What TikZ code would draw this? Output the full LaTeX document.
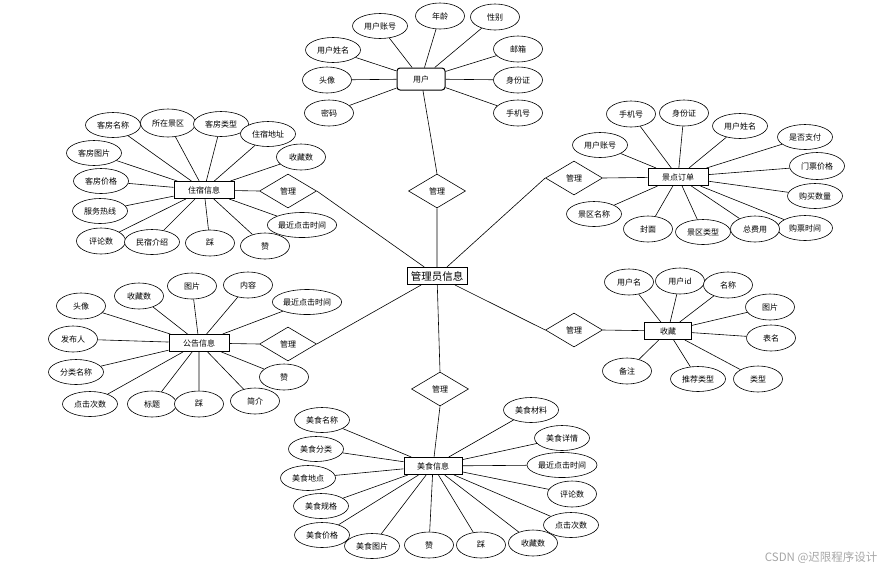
\documentclass[tikz,border=0pt]{standalone}
\usepackage{fontspec}
\setmainfont{Noto Sans CJK SC}
\usepackage{tikz}
\usetikzlibrary{shapes.geometric}

\begin{document}
\begin{tikzpicture}[x=1pt,y=-1pt,
  attr/.style={draw,ellipse,fill=white,line width=0.6pt,inner sep=0.5pt,
    minimum width=49pt,minimum height=26pt,font=\fontsize{8}{9}\selectfont},
  wattr/.style={attr,minimum width=55pt,minimum height=25pt},
  ent/.style={draw,fill=white,line width=1pt,inner sep=2pt,
    minimum width=60pt,minimum height=17pt,font=\fontsize{8}{9}\selectfont},
  rel/.style={draw,diamond,fill=white,aspect=1.7,line width=0.6pt,inner sep=0pt,
    minimum width=57pt,minimum height=34pt,font=\fontsize{8}{9}\selectfont},
  link/.style={line width=0.6pt}]
  \useasboundingbox (0,0) rectangle (885,574);

  % centre and relations
  \node[ent,font=\fontsize{10.5}{12}\selectfont] (admin) at (437,276) {管理员信息};
  \node[rel] (r1) at (437,191) {管理};
  \node[rel] (r2) at (288,191) {管理};
  \node[rel] (r3) at (574,178) {管理};
  \node[rel] (r4) at (288,344) {管理};
  \node[rel] (r5) at (574,330) {管理};
  \node[rel] (r6) at (440,389) {管理};

  % entities
  \node[ent,rounded corners=3pt,minimum width=48pt,minimum height=22pt] (user) at (421,79) {用户};
  \node[ent] (stay) at (204,190) {住宿信息};
  \node[ent] (order) at (678,177) {景点订单};
  \node[ent] (notice) at (199,343) {公告信息};
  \node[ent,minimum width=47pt] (fav) at (668,331) {收藏};
  \node[ent,minimum width=58pt] (food) at (433,466) {美食信息};

  \draw[link] (r1.south) -- (admin) (r2.east) -- (admin) (r3.west) -- (admin)
    (r4.east) -- (admin) (r5.west) -- (admin) (r6.north) -- (admin);
  \draw[link] (user) -- (r1.north) (stay) -- (r2.west) (order) -- (r3.east)
    (notice) -- (r4.west) (fav) -- (r5.east) (food) -- (r6.south);

  % 用户
  \node[wattr] (uacc) at (380,26) {用户账号};
  \node[attr] (uage) at (440,16) {年龄};
  \node[attr] (usex) at (495,17) {性别};
  \node[attr] (umail) at (518,49) {邮箱};
  \node[attr] (uid) at (518,80) {身份证};
  \node[attr] (uphone) at (518,113) {手机号};
  \node[wattr] (uname) at (333,50) {用户姓名};
  \node[attr] (uhead) at (327,80) {头像};
  \node[attr] (upwd) at (329,113) {密码};
  \draw[link] (user) -- (uacc) (user) -- (uage) (user) -- (usex) (user) -- (umail)
    (user) -- (uid) (user) -- (uphone) (user) -- (uname) (user) -- (uhead) (user) -- (upwd);

  % 住宿信息
  \node[wattr] (sname) at (113,125) {客房名称};
  \node[wattr,minimum height=28pt] (sarea) at (168,123) {所在景区};
  \node[wattr] (stype) at (221,124) {客房类型};
  \node[wattr] (saddr) at (268,134) {住宿地址};
  \node[attr] (sfav) at (301,157) {收藏数};
  \node[wattr] (spic) at (94,153) {客房图片};
  \node[wattr] (sprice) at (101,181) {客房价格};
  \node[wattr] (sline) at (100,211) {服务热线};
  \node[attr] (scomm) at (101,241) {评论数};
  \node[wattr] (sintro) at (152,242) {民宿介绍};
  \node[attr] (sdislike) at (210,243) {踩};
  \node[attr] (slike) at (265,246) {赞};
  \node[wattr,minimum width=64pt] (stime) at (302,225) {最近点击时间};
  \draw[link] (stay) -- (sname) (stay) -- (sarea) (stay) -- (stype) (stay) -- (saddr)
    (stay) -- (sfav) (stay) -- (spic) (stay) -- (sprice) (stay) -- (sline)
    (stay) -- (scomm) (stay) -- (sintro) (stay) -- (sdislike) (stay) -- (slike) (stay) -- (stime);

  % 景点订单
  \node[wattr] (oacc) at (600,145) {用户账号};
  \node[attr] (ophone) at (631,114) {手机号};
  \node[attr] (oid) at (684,113) {身份证};
  \node[wattr] (oname) at (740,126) {用户姓名};
  \node[wattr] (opaid) at (805,137) {是否支付};
  \node[wattr,minimum height=27pt] (oprice) at (817,166) {门票价格};
  \node[wattr] (onum) at (815,196) {购买数量};
  \node[wattr] (otime) at (805,228) {购票时间};
  \node[attr] (ototal) at (755,229) {总费用};
  \node[wattr] (otype) at (703,232) {景区类型};
  \node[attr] (ocover) at (648,229) {封面};
  \node[wattr] (oarea) at (594,214) {景区名称};
  \draw[link] (order) -- (oacc) (order) -- (ophone) (order) -- (oid) (order) -- (oname)
    (order) -- (opaid) (order) -- (oprice) (order) -- (onum) (order) -- (otime)
    (order) -- (ototal) (order) -- (otype) (order) -- (ocover) (order) -- (oarea);

  % 公告信息
  \node[attr] (nhead) at (81,306) {头像};
  \node[attr] (nauthor) at (73,339) {发布人};
  \node[wattr] (ncat) at (76,372) {分类名称};
  \node[wattr] (nclick) at (90,404) {点击次数};
  \node[attr] (ntitle) at (152,404) {标题};
  \node[attr] (ndislike) at (199,404) {踩};
  \node[attr] (nintro) at (255,401) {简介};
  \node[attr] (nlike) at (284,377) {赞};
  \node[wattr,minimum width=66pt] (ntime) at (307,302) {最近点击时间};
  \node[attr] (ncontent) at (248,285) {内容};
  \node[attr] (npic) at (192,286) {图片};
  \node[attr] (nfav) at (139,296) {收藏数};
  \draw[link] (notice) -- (nhead) (notice) -- (nauthor) (notice) -- (ncat) (notice) -- (nclick)
    (notice) -- (ntitle) (notice) -- (ndislike) (notice) -- (nintro) (notice) -- (nlike)
    (notice) -- (ntime) (notice) -- (ncontent) (notice) -- (npic) (notice) -- (nfav);

  % 收藏
  \node[attr] (fuser) at (629,282) {用户名};
  \node[attr] (fuid) at (680,281) {用户id};
  \node[attr] (fname) at (728,285) {名称};
  \node[attr] (fpic) at (770,307) {图片};
  \node[attr] (ftable) at (771,338) {表名};
  \node[attr] (ftype) at (758,379) {类型};
  \node[wattr] (frec) at (698,379) {推荐类型};
  \node[attr] (fnote) at (627,371) {备注};
  \draw[link] (fav) -- (fuser) (fav) -- (fuid) (fav) -- (fname) (fav) -- (fpic)
    (fav) -- (ftable) (fav) -- (ftype) (fav) -- (frec) (fav) -- (fnote);

  % 美食信息
  \node[wattr] (mname) at (322,420) {美食名称};
  \node[wattr] (mcat) at (316,449) {美食分类};
  \node[wattr] (mplace) at (308,478) {美食地点};
  \node[wattr] (mspec) at (321,506) {美食规格};
  \node[wattr] (mprice) at (322,535) {美食价格};
  \node[wattr] (mpic) at (372,546) {美食图片};
  \node[attr] (mlike) at (429,545) {赞};
  \node[attr] (mdislike) at (481,545) {踩};
  \node[attr] (mfav) at (533,543) {收藏数};
  \node[wattr] (mclick) at (571,525) {点击次数};
  \node[attr] (mcomm) at (572,494) {评论数};
  \node[wattr,minimum width=70pt] (mtime) at (562,465) {最近点击时间};
  \node[wattr] (mdetail) at (562,438) {美食详情};
  \node[wattr] (mmat) at (531,410) {美食材料};
  \draw[link] (food) -- (mname) (food) -- (mcat) (food) -- (mplace) (food) -- (mspec)
    (food) -- (mprice) (food) -- (mpic) (food) -- (mlike) (food) -- (mdislike)
    (food) -- (mfav) (food) -- (mclick) (food) -- (mcomm) (food) -- (mtime)
    (food) -- (mdetail) (food) -- (mmat);

  \node[text=black!35,font=\fontsize{11.5}{12}\selectfont,anchor=east] (mark) at (881,558) {CSDN @迟限程序设计};
\end{tikzpicture}
\end{document}
